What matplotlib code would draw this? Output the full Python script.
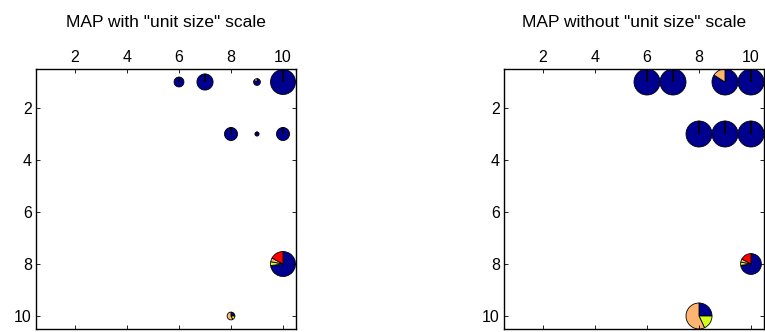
import numpy as np
import matplotlib
matplotlib.use("Agg")
import matplotlib.pyplot as plt
from matplotlib.patches import Wedge

plt.rcParams['font.family'] = ['Liberation Sans', 'DejaVu Sans']

# grid positions of the pies (column, row)
pie_x = [6, 7, 9, 10, 8, 9, 10, 10, 8]
pie_y = [1, 1, 1, 1, 3, 3, 3, 8, 10]

# class fractions per pie: dark blue, yellow-green, orange, red
frac_blue = [1.00, 1.00, 0.84, 1.00, 1.00, 1.00, 1.00, 0.73, 0.25]
frac_lime = [0.00, 0.00, 0.00, 0.00, 0.00, 0.00, 0.00, 0.05, 0.18]
frac_orange = [0.00, 0.00, 0.16, 0.00, 0.00, 0.00, 0.00, 0.05, 0.57]
frac_red = [0.00, 0.00, 0.00, 0.00, 0.00, 0.00, 0.00, 0.17, 0.00]

# pie radius (data units) with and without the unit size scale
radius_scaled = [0.19, 0.31, 0.13, 0.48, 0.25, 0.08, 0.25, 0.48, 0.15]
radius_plain = [0.5, 0.5, 0.5, 0.5, 0.5, 0.5, 0.5, 0.4, 0.5]

titles = ['MAP with "unit size" scale', 'MAP without "unit size" scale']
colors = ['#00008f', '#d4ff1a', '#ffb570', '#ff0000']


def draw_pies(ax, radii):
    fracs = np.array([frac_blue, frac_lime, frac_orange, frac_red]).T
    for x, y, r, f in zip(pie_x, pie_y, radii, fracs):
        # y axis is inverted: start at top and go clockwise on screen
        start = 270.0
        for val, col in zip(f, colors):
            if val <= 0:
                continue
            span = min(360.0 * val, 359.999)
            ax.add_patch(Wedge((x, y), r, start, start + span, facecolor=col,
                               edgecolor='black', linewidth=0.6))
            start += span


fig = plt.figure(figsize=(7.65, 3.32), dpi=100)
axes = [fig.add_axes([36 / 765, 3 / 332, 260 / 765, 260 / 332]),
        fig.add_axes([504 / 765, 3 / 332, 260 / 765, 260 / 332])]

for ax, radii, title in zip(axes, [radius_scaled, radius_plain], titles):
    draw_pies(ax, radii)
    ax.set_xlim(0.5, 10.5)
    ax.set_ylim(10.5, 0.5)
    ax.set_xticks([2, 4, 6, 8, 10])
    ax.set_yticks([2, 4, 6, 8, 10])
    ax.tick_params(direction='in', length=3, width=0.6, labelsize=11.5,
                   top=True, bottom=True, left=True, right=True,
                   labeltop=True, labelbottom=False, pad=3)
    for sp in ax.spines.values():
        sp.set_linewidth(1.0)
    ax.set_title(title, fontsize=12.5, y=1 + 42 / 260, pad=0)

fig.savefig('out.png', dpi=100)
